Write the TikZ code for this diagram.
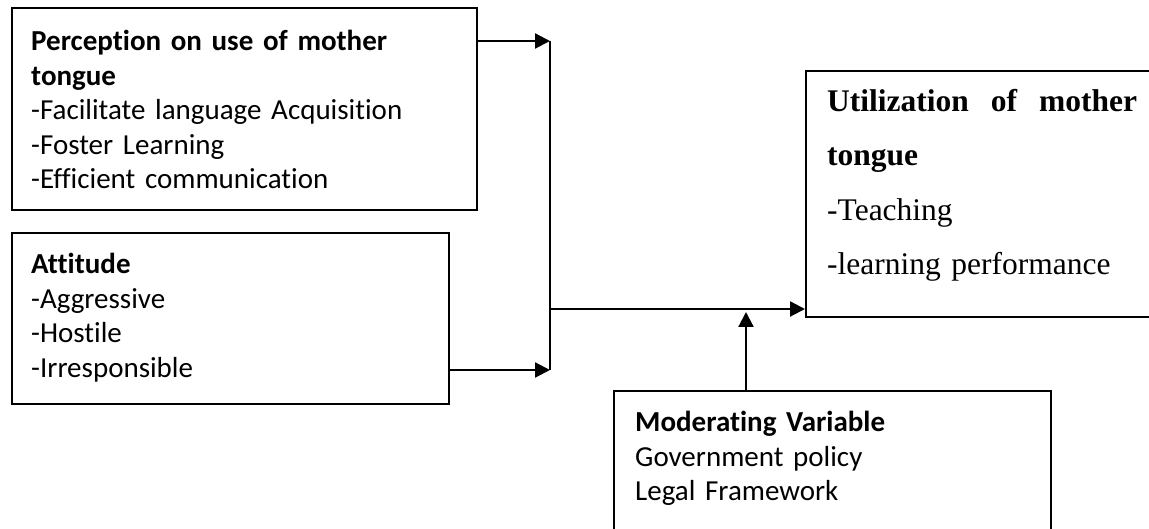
\documentclass[tikz,border=0pt]{standalone}
\usepackage{fontspec}
\setmainfont{Carlito}[Ligatures=NoCommon]
\newfontfamily\timesfont{Liberation Serif}
\usetikzlibrary{arrows.meta,positioning}
\begin{document}
\begin{tikzpicture}[x=1pt,y=-1pt,
        box/.style={draw,line width=1.6pt,anchor=north west,inner sep=0pt},
        txt/.style={anchor=north west,inner sep=0pt,text width=430pt,align=left,
            font=\fontsize{29}{34.6}\selectfont},
        ttxt/.style={anchor=north west,inner sep=0pt,text width=330pt,align=left,
            font=\timesfont\fontsize{31.5}{54.5}\selectfont},
        wire/.style={line width=2.2pt},
        conn/.style={wire,-{Triangle[length=15pt,width=15pt]}}]
    \useasboundingbox (0,0) rectangle (1149,529);
    \clip (0,0) rectangle (1149,529);
    % the four boxes
    \node[box,minimum width=465pt,minimum height=202pt] (perc) at (11,7) {};
    \node[box,minimum width=437pt,minimum height=171pt] (att) at (11,232) {};
    \node[box,minimum width=360pt,minimum height=246pt] (util) at (805,70) {};
    \node[box,minimum width=437pt,minimum height=160pt] (mod) at (613,390) {};
    % their texts
    \node[txt] (perc-t) at (31,30) {\textbf{Perception on use of mother}\\
        \textbf{tongue}\\-Facilitate language Acquisition\\-Foster Learning\\
        -Efficient communication};
    \node[txt] (att-t) at (31,253) {\textbf{Attitude}\\-Aggressive\\-Hostile\\-Irresponsible};
    \node[ttxt] (util-t) at (827,89) {\textbf{\hbox to 310pt{Utilization\hfill of\hfill mother}}\\
        \textbf{tongue}\\-Teaching\\-learning performance};
    \node[txt] (mod-t) at (635,411) {\textbf{Moderating Variable}\\Government policy\\Legal Framework};
    % junctions
    \coordinate (top) at (550,41);
    \coordinate (bot) at (550,370);
    \coordinate (mid) at (550,309);
    \coordinate (up) at (746,312);
    \draw[conn] (perc.east |- top) -- (top);
    \draw[conn] (att.east |- bot) -- (bot);
    \draw[wire] (top) -- (bot);
    \draw[conn] (mid) -- (util.west |- mid);
    \draw[conn] (mod.north -| up) -- (up);
\end{tikzpicture}
\end{document}
